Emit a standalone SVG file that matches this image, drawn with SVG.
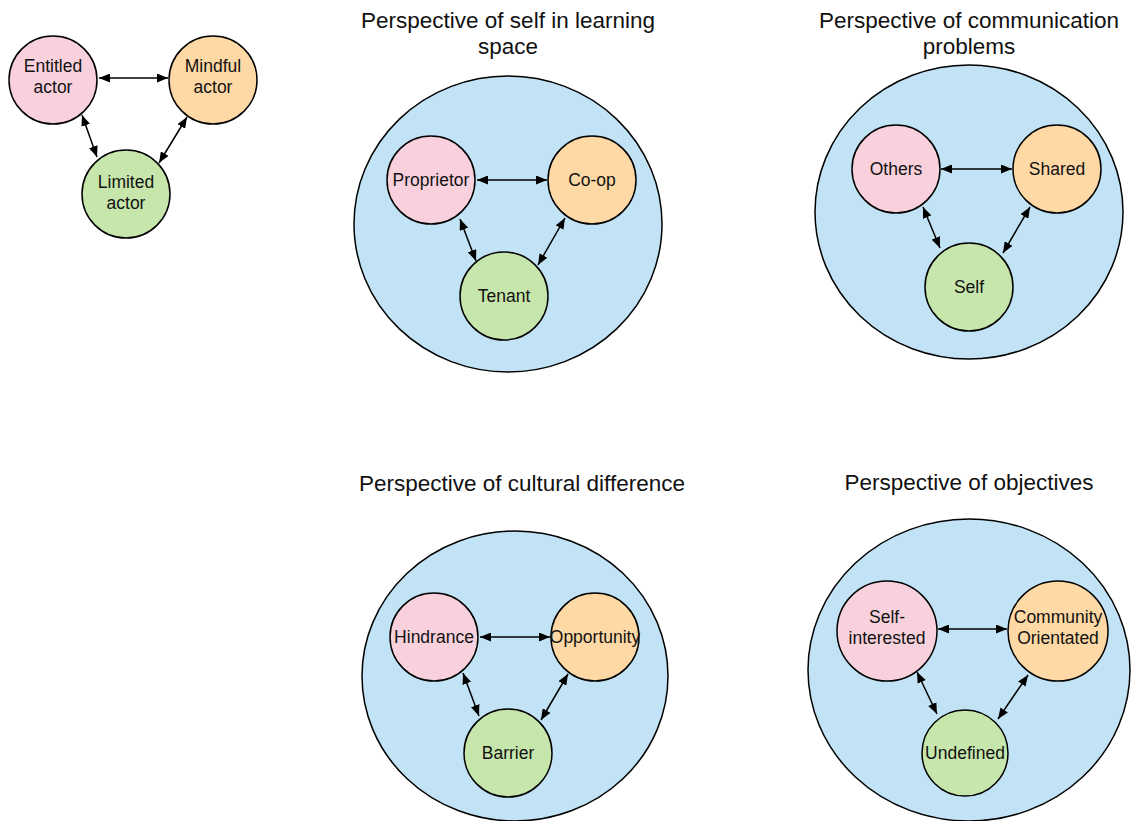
<svg xmlns="http://www.w3.org/2000/svg" width="1134" height="821" viewBox="0 0 1134 821">
  <style>
    .bg { fill: #ffffff; }
    .frame { fill: #c2e3f5; stroke: #000; stroke-width: 1.5; }
    .pink { fill: #f8d1dd; stroke: #000; stroke-width: 1.5; }
    .orange { fill: #ffd9a5; stroke: #000; stroke-width: 1.5; }
    .green { fill: #c7e6ac; stroke: #000; stroke-width: 1.5; }
    .lbl { font-family: "Liberation Sans", Arial, sans-serif; font-size: 17.5px; fill: #111; text-anchor: middle; }
    .title { font-family: "Liberation Sans", Arial, sans-serif; font-size: 22.5px; fill: #111; text-anchor: middle; }
    .link { stroke: #000; stroke-width: 1.5; fill: none; marker-start: url(#head); marker-end: url(#head); }
  </style>
  <defs>
    <marker id="head" viewBox="0 0 11 9" refX="11" refY="4.5" markerWidth="11" markerHeight="9" markerUnits="userSpaceOnUse" orient="auto-start-reverse">
      <path d="M0,0 L11,4.5 L0,9 Z" fill="#000"/>
    </marker>
  </defs>
  <rect class="bg" x="0" y="0" width="1134" height="821"/>

  <!-- Titles -->
  <g id="titles">
    <text class="title" x="508" y="28">Perspective of self in learning</text>
    <text class="title" x="508" y="54">space</text>
    <text class="title" x="969" y="28">Perspective of communication</text>
    <text class="title" x="969" y="54">problems</text>
    <text class="title" x="522" y="491">Perspective of cultural difference</text>
    <text class="title" x="969" y="490">Perspective of objectives</text>
  </g>

  <!-- Panel frames -->
  <g id="frame-learning-space"><ellipse class="frame" cx="508" cy="224" rx="154" ry="148"/></g>
  <g id="frame-communication"><ellipse class="frame" cx="969" cy="212" rx="154" ry="147"/></g>
  <g id="frame-cultural"><ellipse class="frame" cx="515" cy="676" rx="153" ry="145"/></g>
  <g id="frame-objectives"><ellipse class="frame" cx="969" cy="670" rx="161" ry="151"/></g>

  <!-- Actor triad -->
  <g id="entitled-actor">
    <circle class="pink" cx="53" cy="80" r="44"/>
    <text class="lbl" x="53" y="72">Entitled</text>
    <text class="lbl" x="53" y="93">actor</text>
  </g>
  <g id="mindful-actor">
    <circle class="orange" cx="213" cy="80" r="44"/>
    <text class="lbl" x="213" y="72">Mindful</text>
    <text class="lbl" x="213" y="93">actor</text>
  </g>
  <g id="limited-actor">
    <circle class="green" cx="126" cy="194" r="44"/>
    <text class="lbl" x="126" y="188">Limited</text>
    <text class="lbl" x="126" y="209">actor</text>
  </g>

  <!-- Self in learning space -->
  <g id="proprietor">
    <circle class="pink" cx="431" cy="180" r="44"/>
    <text class="lbl" x="431" y="186">Proprietor</text>
  </g>
  <g id="co-op">
    <circle class="orange" cx="592" cy="180" r="44"/>
    <text class="lbl" x="592" y="186">Co-op</text>
  </g>
  <g id="tenant">
    <circle class="green" cx="504" cy="296" r="44"/>
    <text class="lbl" x="504" y="302">Tenant</text>
  </g>

  <!-- Communication problems -->
  <g id="others">
    <circle class="pink" cx="896" cy="169" r="44"/>
    <text class="lbl" x="896" y="175">Others</text>
  </g>
  <g id="shared">
    <circle class="orange" cx="1057" cy="169" r="44"/>
    <text class="lbl" x="1057" y="175">Shared</text>
  </g>
  <g id="self">
    <circle class="green" cx="969" cy="287" r="44"/>
    <text class="lbl" x="969" y="293">Self</text>
  </g>

  <!-- Cultural difference -->
  <g id="hindrance">
    <circle class="pink" cx="434" cy="637" r="44"/>
    <text class="lbl" x="434" y="643">Hindrance</text>
  </g>
  <g id="opportunity">
    <circle class="orange" cx="595" cy="637" r="44"/>
    <text class="lbl" x="595" y="643">Opportunity</text>
  </g>
  <g id="barrier">
    <circle class="green" cx="508" cy="753" r="44"/>
    <text class="lbl" x="508" y="759">Barrier</text>
  </g>

  <!-- Objectives -->
  <g id="self-interested">
    <circle class="pink" cx="887" cy="631" r="50"/>
    <text class="lbl" x="887" y="623">Self-</text>
    <text class="lbl" x="887" y="644">interested</text>
  </g>
  <g id="community-orientated">
    <circle class="orange" cx="1058" cy="631" r="50"/>
    <text class="lbl" x="1058" y="623">Community</text>
    <text class="lbl" x="1058" y="644">Orientated</text>
  </g>
  <g id="undefined">
    <circle class="green" cx="965" cy="753" r="43"/>
    <text class="lbl" x="965" y="759">Undefined</text>
  </g>

  <!-- Connectors -->
  <g id="connectors">
    <line class="link" x1="99" y1="78" x2="168" y2="78"/>
    <line class="link" x1="82" y1="115" x2="97" y2="157"/>
    <line class="link" x1="187" y1="117" x2="159" y2="163"/>

    <line class="link" x1="477" y1="180" x2="547" y2="180"/>
    <line class="link" x1="460" y1="219" x2="476" y2="261"/>
    <line class="link" x1="565" y1="218" x2="538" y2="265"/>

    <line class="link" x1="941" y1="169" x2="1012" y2="169"/>
    <line class="link" x1="923" y1="207" x2="940" y2="248"/>
    <line class="link" x1="1030" y1="207" x2="1003" y2="253"/>

    <line class="link" x1="480" y1="637" x2="550" y2="637"/>
    <line class="link" x1="463" y1="673" x2="479" y2="716"/>
    <line class="link" x1="568" y1="674" x2="541" y2="720"/>

    <line class="link" x1="938" y1="629" x2="1007" y2="629"/>
    <line class="link" x1="917" y1="672" x2="937" y2="714"/>
    <line class="link" x1="1028" y1="675" x2="998" y2="719"/>
  </g>
</svg>
